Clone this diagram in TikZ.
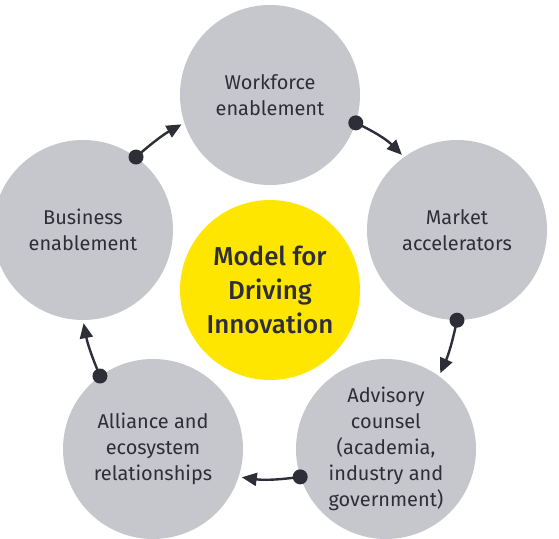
\documentclass[tikz,border=0pt]{standalone}
\usepackage{fontspec}
\setmainfont{Fira Sans}[BoldFont=* Medium]
\usetikzlibrary{arrows.meta}
\definecolor{petalgray}{HTML}{C6C6CD}
\definecolor{hubyellow}{HTML}{FFE600}
\definecolor{inkdark}{HTML}{2E2E38}
\tikzset{
  petal/.style={circle,fill=petalgray,minimum size=180bp,inner sep=0pt,align=center,
    text=inkdark,font=\fontsize{20}{26}\selectfont},
  hub/.style={circle,fill=hubyellow,minimum size=180bp,inner sep=0pt,align=center,
    text=inkdark,font=\fontsize{26}{34}\selectfont\bfseries},
  link/.style={line width=2.4bp,draw=inkdark,-{Triangle[length=15bp,width=13bp]},shorten >=3bp},
  knob/.style={fill=inkdark}
}
\begin{document}
\begin{tikzpicture}[line cap=round,line join=round,x=1bp,y=1bp]

\useasboundingbox (0,0) rectangle (559,539);
\node[hub] (model) at (270,249) {Model for\\Driving\\Innovation};
\node[petal] (wf) at (270,444) {Workforce\\enablement};
\node[petal] (mk) at (457,309) {Market\\accelerators};
\node[petal] (adv) at (386,90) {Advisory\\counsel\\(academia,\\industry and\\government)};
\node[petal] (all) at (153,90) {Alliance and\\ecosystem\\relationships};
\node[petal] (bus) at (83,309) {Business\\enablement};
\draw[link] (wf.-18) to[bend left=10] (mk.126);
\draw[link] (mk.-90) to[bend left=6] (adv.54);
\draw[link] (adv.-162) to[bend left=8] (all.-18);
\draw[link] (all.126) to[bend left=6] (bus.-90);
\draw[link] (bus.54) to[bend left=6] (wf.198);
\fill[knob] (wf.-18) circle (7.5bp);
\fill[knob] (mk.-90) circle (7.5bp);
\fill[knob] (adv.-162) circle (7.5bp);
\fill[knob] (all.126) circle (7.5bp);
\fill[knob] (bus.54) circle (7.5bp);
\end{tikzpicture}
\end{document}
